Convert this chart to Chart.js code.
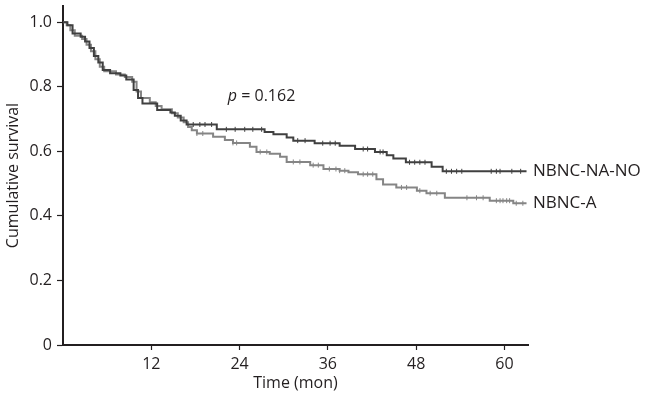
<!DOCTYPE html>
<html>
<head>
<meta charset="utf-8">
<script src="https://cdn.jsdelivr.net/npm/chart.js@4.4.1/dist/chart.umd.min.js"></script>
<style>
  html, body { margin: 0; background: #fff; }
  #wrap { width: 650px; height: 397px; }
</style>
</head>
<body>
<div id="wrap"><canvas id="km"></canvas></div>
<script>
// Kaplan-Meier curves, values (time in months, cumulative survival)
const groupNames = ['NBNC-NA-NO', 'NBNC-A'];

const naTime = [0, 0.6, 1.3, 2.4, 3.0, 3.6, 4.2, 4.8, 5.4, 6.4, 7.8, 8.6, 9.6, 10.2, 10.8, 12.8, 14.6, 15.2, 16.0, 16.8,
  20.9, 27.4, 28.6, 30.4, 31.3, 34.2, 37.6, 39.7, 42.4, 44.0, 44.9, 46.6, 50.1, 51.6, 63];
const naSurv = [1.0, 0.99, 0.965, 0.955, 0.94, 0.92, 0.895, 0.875, 0.852, 0.842, 0.835, 0.822, 0.79, 0.765, 0.748, 0.728, 0.72, 0.71, 0.695, 0.683,
  0.668, 0.66, 0.653, 0.643, 0.633, 0.625, 0.617, 0.607, 0.598, 0.588, 0.578, 0.566, 0.552, 0.538, 0.538];
const naCensor = [17.7, 18.6, 19.3, 20.2, 22.2, 23.4, 24.7, 25.8, 27.0, 31.9, 32.9, 35.3, 36.3, 37.0, 40.8, 41.4, 43.1, 43.5,
  47.1, 47.8, 48.5, 49.2, 52.1, 52.8, 53.5, 54.2, 58.2, 58.9, 59.4, 61.0, 62.2];

const aTime = [0, 0.5, 1.0, 1.6, 2.6, 3.2, 3.8, 4.4, 5.0, 5.6, 7.2, 8.4, 9.4, 10.0, 10.6, 11.8, 12.6, 13.4, 14.8, 15.6, 16.4, 17.0, 17.5, 18.2,
  20.4, 22.0, 23.1, 25.4, 26.3, 28.1, 29.5, 30.4, 33.6, 35.4, 37.6, 38.8, 40.1, 42.6, 43.5, 45.3, 48.1, 49.4, 51.9, 58.0, 61.2, 63];
const aSurv = [1.0, 0.99, 0.975, 0.958, 0.948, 0.93, 0.91, 0.885, 0.862, 0.848, 0.838, 0.83, 0.815, 0.785, 0.765, 0.752, 0.74, 0.73, 0.718, 0.705, 0.69, 0.675, 0.665, 0.655,
  0.645, 0.635, 0.626, 0.614, 0.598, 0.592, 0.583, 0.567, 0.557, 0.545, 0.540, 0.535, 0.529, 0.513, 0.497, 0.488, 0.478, 0.470, 0.456, 0.447, 0.439, 0.439];
const aCensor = [18.2, 19.0, 23.1, 23.6, 26.8, 27.7, 31.3, 32.2, 34.0, 34.7, 36.2, 37.1, 37.6, 38.3, 40.8, 41.4, 42.1, 46.0, 46.7,
  48.5, 49.9, 50.8, 54.9, 56.2, 57.1, 58.9, 59.4, 59.8, 60.3, 60.7, 61.6, 62.5];

const xTickValues = [12, 24, 36, 48, 60];
const yTickValues = [0, 0.2, 0.4, 0.6, 0.8, 1.0];
const pValueText = '0.162';

const DARK = '#404040';
const GRAY = '#858585';
const INK = '#231f20';
const FONT = "'Open Sans', sans-serif";

const toPoints = (ts, ss) => ts.map((t, i) => ({ x: t, y: ss[i] }));
// survival at a censor time = last step at or before it
const stepAt = (ts, ss, t) => {
  let v = ss[0];
  for (let i = 0; i < ts.length; i++) if (ts[i] <= t) v = ss[i];
  return v;
};
const censorPoints = (cs, ts, ss) => cs.map(t => ({ x: t, y: stepAt(ts, ss, t) }));

const curve = (label, data, color) => ({
  label, data, borderColor: color, borderWidth: 2, stepped: 'before',
  pointRadius: 0, fill: false, order: 1
});
const ticks = (data, color) => ({
  data, showLine: false, borderColor: color, backgroundColor: color,
  pointStyle: 'line', rotation: 90, pointRadius: 2.5, borderWidth: 1, order: 0
});

// group names at the ends of the curves, p value in the plot
const annotations = {
  id: 'annotations',
  afterDraw(chart) {
    const { ctx, scales: { x, y }, chartArea } = chart;
    ctx.save();
    ctx.fillStyle = INK;
    ctx.textBaseline = 'middle';
    ctx.font = `17px ${FONT}`;
    ctx.fillText(groupNames[0], chartArea.right + 5, y.getPixelForValue(naSurv[naSurv.length - 1]));
    ctx.fillText(groupNames[1], chartArea.right + 5, y.getPixelForValue(aSurv[aSurv.length - 1]));

    const px = x.getPixelForValue(22.4), py = y.getPixelForValue(0.771);
    ctx.font = `italic 16px ${FONT}`;
    ctx.fillText('p', px, py);
    const w = ctx.measureText('p').width;
    ctx.font = `16px ${FONT}`;
    ctx.fillText(' = ' + pValueText, px + w, py);
    ctx.restore();
  }
};

new Chart(document.getElementById('km'), {
  type: 'line',
  data: {
    datasets: [
      curve(groupNames[0], toPoints(naTime, naSurv), DARK),
      curve(groupNames[1], toPoints(aTime, aSurv), GRAY),
      ticks(censorPoints(naCensor, naTime, naSurv), DARK),
      ticks(censorPoints(aCensor, aTime, aSurv), GRAY)
    ]
  },
  options: {
    responsive: true, maintainAspectRatio: false, animation: false,
    layout: { padding: { top: 6, right: 122, left: 0, bottom: 0 } },
    plugins: { legend: { display: false }, tooltip: { enabled: false } },
    scales: {
      x: {
        type: 'linear', min: 0, max: 63.2,
        afterBuildTicks: s => { s.ticks = xTickValues.map(v => ({ value: v })); },
        afterFit: s => { s.height = 52; s.paddingLeft = 0; s.paddingRight = 0; },
        grid: { drawOnChartArea: false, tickLength: 5, tickColor: INK, tickWidth: 1.2 },
        border: { color: INK, width: 2 },
        ticks: { color: INK, font: { family: FONT, size: 16 }, padding: 5, maxRotation: 0 },
        title: { display: true, text: 'Time (mon)', color: INK, font: { family: FONT, size: 16 }, padding: { top: 0, bottom: 4 } }
      },
      y: {
        min: 0, max: 1.05,
        afterBuildTicks: s => { s.ticks = yTickValues.map(v => ({ value: v })); },
        afterFit: s => { s.width = 63; s.paddingTop = 0; s.paddingBottom = 0; },
        grid: { drawOnChartArea: false, tickLength: 6, tickColor: INK, tickWidth: 1.2 },
        border: { color: INK, width: 2 },
        ticks: { color: INK, font: { family: FONT, size: 16 }, padding: 5, callback: v => v === 0 ? '0' : v.toFixed(1) },
        title: { display: true, text: 'Cumulative survival', color: INK, font: { family: FONT, size: 16 }, padding: { top: 4, bottom: 4 } }
      }
    }
  },
  plugins: [annotations]
});
</script>
</body>
</html>
